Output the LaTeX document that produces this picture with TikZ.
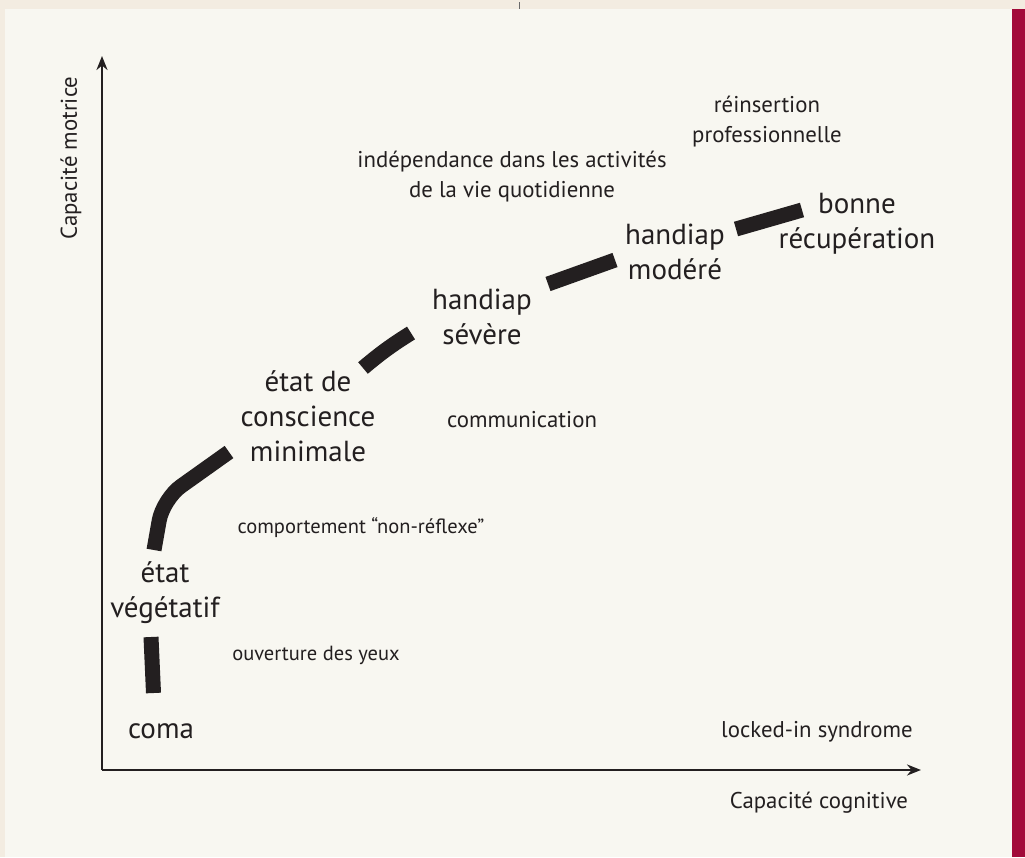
\documentclass[tikz,border=0pt]{standalone}
\usepackage{fontspec}
\setmainfont{PT Sans}
\usetikzlibrary{arrows.meta}
\definecolor{outerbg}{HTML}{F3ECE1}
\definecolor{panelbg}{HTML}{F8F7F1}
\definecolor{crimson}{HTML}{A20A3A}
\definecolor{ink}{HTML}{231F20}
\definecolor{tickgray}{HTML}{6A6A6A}
\begin{document}
\begin{tikzpicture}[x=1pt,y=-1pt,
  small/.style={font=\fontsize{22.8}{30}\selectfont, text=ink, align=center, inner sep=0pt},
  smaller/.style={small, font=\fontsize{20.5}{27}\selectfont},
  big/.style={font=\fontsize{29}{35}\selectfont, text=ink, align=center, inner sep=0pt},
  stage/.style={line width=15pt, draw=ink},
  axis/.style={line width=2.6pt, draw=ink, -{Stealth[length=14pt,width=11pt]}}]
% background, panel and side bar
\useasboundingbox (0,0) rectangle (1025,857);
\fill[outerbg] (0,0) rectangle (1025,857);
\fill[panelbg] (5,9) rectangle (1012,857);
\fill[crimson] (1012,9) rectangle (1025,857);
\draw[tickgray, line width=1.2pt] (519.5,2) -- (519.5,9);

% axes
\coordinate (origin) at (102,770);
\coordinate (ytop) at (102,56);
\coordinate (xend) at (921,770);
\draw[axis] (origin) -- (ytop);
\draw[axis] (origin) -- (xend);
\node[small, rotate=90] (motrice) at (71,158) {Capacité motrice};
\node[small] (cognitive) at (819,803) {Capacité cognitive};

% stages of recovery
\node[big] (coma) at (161,731) {coma};
\node[big] (vegetatif) at (165,593) {état\\végétatif};
\node[big] (mcs) at (308,416) {état de\\conscience\\minimale};
\node[big] (severe) at (482,317) {handiap\\sévère};
\node[big] (modere) at (675,252) {handiap\\modéré};
\node[big] (bonne) at (857,224) {bonne\\récupération};

% milestones
\node[smaller] (ouverture) at (316,655) {ouverture des yeux};
\node[smaller] (comportement) at (361,528) {comportement “non-réflexe”};
\node[small] (communication) at (522,420) {communication};
\node[small] (independance) at (512,177) {indépendance dans les activités\\de la vie quotidienne};
\node[small] (reinsertion) at (767,122) {réinsertion\\professionnelle};
\node[small] (locked) at (817,732) {locked-in syndrome};

% thick path segments between the stages
\coordinate (s1a) at (153.5,693);
\coordinate (s1b) at (151,637);
\coordinate (s2a) at (154,550);
\coordinate (s2k) at (163,499);
\coordinate (s2b) at (229,452);
\coordinate (s3a) at (363,368);
\coordinate (s3b) at (411,333);
\coordinate (s4a) at (548,284);
\coordinate (s4b) at (615,260);
\coordinate (s5a) at (736,229);
\coordinate (s5b) at (802,210);
\draw[stage] (s1a) -- (s1b);
\draw[stage, rounded corners=22pt] (s2a) -- (s2k) -- (s2b);
\draw[stage] (s3a) to[bend left=4] (s3b);
\draw[stage] (s4a) -- (s4b);
\draw[stage] (s5a) -- (s5b);
\end{tikzpicture}
\end{document}
